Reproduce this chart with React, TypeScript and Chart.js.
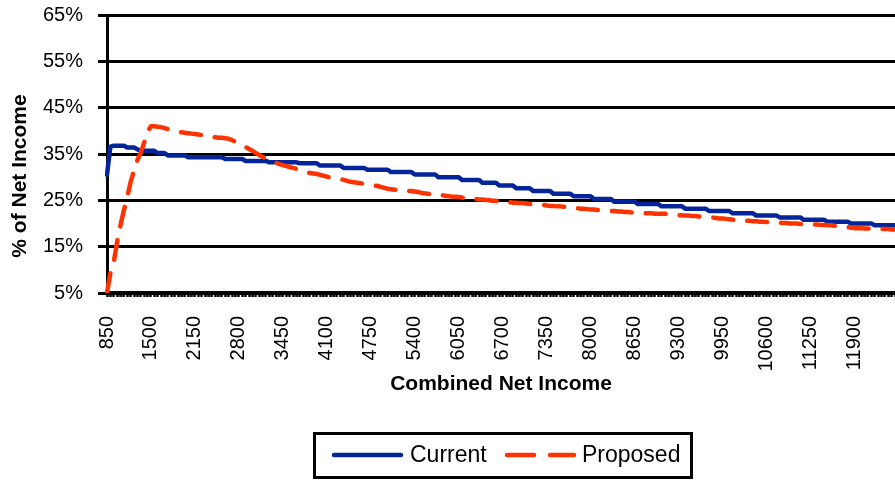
import React, { useEffect, useRef } from "react";
import { Chart, registerables } from "chart.js";

Chart.register(...registerables);

// Category axis: combined net income, 850 to 12500 in steps of 50
const FIRST_INCOME = 850;
const INCOME_STEP = 50;
const CATEGORY_COUNT = 234;
const categories: string[] = Array.from({ length: CATEGORY_COUNT }, (_, i) => String(FIRST_INCOME + i * INCOME_STEP));
const LABEL_EVERY = 13; // a label every 650

const Y_MIN = 5;
const Y_MAX = 65;
const Y_STEP = 10;

const SERIES_NAMES = ["Current", "Proposed"];
const Y_TITLE = "% of Net Income";
const X_TITLE = "Combined Net Income";

// % of net income, Current system
const current: number[] = [
  30.5, 36.6, 36.8, 36.8, 36.8, 36.8, 36.4, 36.4, 36.4, 36.0,
  35.7, 35.7, 35.7, 35.7, 35.7, 35.2, 35.2, 35.2, 34.7, 34.7,
  34.7, 34.7, 34.7, 34.7, 34.3, 34.3, 34.3, 34.3, 34.3, 34.3,
  34.3, 34.3, 34.3, 34.3, 34.3, 33.9, 33.9, 33.9, 33.9, 33.9,
  33.9, 33.5, 33.5, 33.5, 33.5, 33.5, 33.5, 33.5, 33.2, 33.2,
  33.2, 33.2, 33.2, 33.2, 33.2, 33.2, 33.2, 33.0, 33.0, 33.0,
  33.0, 33.0, 33.0, 32.5, 32.5, 32.5, 32.5, 32.5, 32.5, 32.5,
  32.0, 32.0, 32.0, 32.0, 32.0, 32.0, 32.0, 31.6, 31.6, 31.6,
  31.6, 31.6, 31.6, 31.6, 31.1, 31.1, 31.1, 31.1, 31.1, 31.1,
  31.1, 30.6, 30.6, 30.6, 30.6, 30.6, 30.6, 30.6, 30.0, 30.0,
  30.0, 30.0, 30.0, 30.0, 30.0, 29.4, 29.4, 29.4, 29.4, 29.4,
  29.4, 28.8, 28.8, 28.8, 28.8, 28.8, 28.2, 28.2, 28.2, 28.2,
  28.2, 27.6, 27.6, 27.6, 27.6, 27.6, 27.0, 27.0, 27.0, 27.0,
  27.0, 27.0, 26.4, 26.4, 26.4, 26.4, 26.4, 26.4, 25.9, 25.9,
  25.9, 25.9, 25.9, 25.9, 25.3, 25.3, 25.3, 25.3, 25.3, 25.3,
  24.7, 24.7, 24.7, 24.7, 24.7, 24.7, 24.7, 24.2, 24.2, 24.2,
  24.2, 24.2, 24.2, 24.2, 23.7, 23.7, 23.7, 23.7, 23.7, 23.7,
  23.7, 23.2, 23.2, 23.2, 23.2, 23.2, 23.2, 23.2, 22.7, 22.7,
  22.7, 22.7, 22.7, 22.7, 22.7, 22.2, 22.2, 22.2, 22.2, 22.2,
  22.2, 22.2, 21.7, 21.7, 21.7, 21.7, 21.7, 21.7, 21.7, 21.3,
  21.3, 21.3, 21.3, 21.3, 21.3, 21.3, 20.8, 20.8, 20.8, 20.8,
  20.8, 20.8, 20.8, 20.4, 20.4, 20.4, 20.4, 20.4, 20.4, 20.4,
  20.0, 20.0, 20.0, 20.0, 20.0, 20.0, 20.0, 19.6, 19.6, 19.6,
  19.6, 19.6, 19.6, 19.6,
];

// % of net income, Proposed system
const proposed: number[] = [
  5.0, 9.3, 11.7, 16.0, 19.7, 22.9, 25.7, 29.0, 31.5, 33.7,
  35.3, 37.5, 39.8, 41.0, 41.0, 40.9, 40.8, 40.6, 40.4, 40.2,
  40.0, 39.8, 39.7, 39.6, 39.5, 39.4, 39.3, 39.2, 39.1, 39.0,
  38.8, 38.7, 38.6, 38.5, 38.5, 38.4, 38.3, 38.0, 37.6, 37.3,
  36.9, 36.5, 36.1, 35.7, 35.2, 34.8, 34.4, 34.0, 33.7, 33.4,
  33.1, 32.8, 32.6, 32.4, 32.2, 32.0, 31.8, 31.5, 31.3, 31.1,
  30.9, 30.8, 30.7, 30.5, 30.3, 30.1, 29.9, 29.8, 29.7, 29.6,
  29.4, 29.2, 29.0, 28.9, 28.8, 28.7, 28.6, 28.4, 28.3, 28.2,
  28.1, 27.9, 27.7, 27.5, 27.4, 27.3, 27.2, 27.2, 27.1, 27.0,
  27.0, 26.9, 26.8, 26.6, 26.5, 26.4, 26.3, 26.2, 26.1, 26.1,
  26.0, 25.9, 25.8, 25.8, 25.7, 25.6, 25.5, 25.4, 25.4, 25.3,
  25.2, 25.2, 25.1, 25.0, 24.9, 24.9, 24.8, 24.8, 24.7, 24.6,
  24.5, 24.5, 24.4, 24.4, 24.3, 24.2, 24.2, 24.1, 24.1, 24.0,
  23.9, 23.8, 23.8, 23.7, 23.7, 23.6, 23.6, 23.5, 23.4, 23.3,
  23.2, 23.2, 23.1, 23.0, 23.0, 22.9, 22.9, 22.8, 22.8, 22.7,
  22.7, 22.6, 22.6, 22.5, 22.5, 22.4, 22.4, 22.3, 22.3, 22.2,
  22.2, 22.2, 22.1, 22.1, 22.1, 22.1, 22.0, 22.0, 21.9, 21.8,
  21.8, 21.7, 21.7, 21.6, 21.6, 21.5, 21.5, 21.4, 21.3, 21.3,
  21.2, 21.1, 21.1, 21.0, 20.9, 20.8, 20.8, 20.7, 20.7, 20.6,
  20.6, 20.5, 20.5, 20.4, 20.4, 20.3, 20.3, 20.2, 20.2, 20.2,
  20.1, 20.1, 20.0, 20.0, 20.0, 19.9, 19.9, 19.9, 19.8, 19.8,
  19.8, 19.7, 19.7, 19.6, 19.6, 19.5, 19.5, 19.4, 19.3, 19.2,
  19.1, 19.0, 19.0, 19.0, 18.9, 18.9, 18.9, 18.8, 18.8, 18.8,
  18.8, 18.8, 18.7, 18.7,
];

const FONT = '"Liberation Sans", Arial, Helvetica, sans-serif';
const BLUE = "#04259A";
const RED = "#FF3300";

const yTitlePlugin = {
  id: "yTitlePlugin",
  afterDraw(chart: any) {
    const ctx = chart.ctx;
    ctx.save();
    ctx.translate(20, 176);
    ctx.rotate(-Math.PI / 2);
    ctx.font = `bold 21px ${FONT}`;
    ctx.fillStyle = "#000";
    ctx.textAlign = "center";
    ctx.textBaseline = "middle";
    ctx.fillText(Y_TITLE, 0, 0);
    ctx.restore();
  },
};

const legendPlugin = {
  id: "boxedLegend",
  afterDraw(chart: any) {
    const ctx = chart.ctx;
    const ds = chart.data.datasets;
    ctx.save();
    ctx.strokeStyle = "#000";
    ctx.lineWidth = 3;
    ctx.strokeRect(314.5, 433.5, 377, 44);
    const cy = 455;
    const items = [
      { x0: 334, x1: 401, tx: 410 },
      { x0: 507, x1: 574, tx: 582 },
    ];
    ctx.font = `23px ${FONT}`;
    ctx.textBaseline = "middle";
    ctx.textAlign = "left";
    ds.forEach((d: any, i: number) => {
      const it = items[i];
      ctx.beginPath();
      ctx.strokeStyle = d.borderColor;
      ctx.lineWidth = 4.5;
      ctx.lineCap = "round";
      ctx.setLineDash(d.borderDash && d.borderDash.length ? [27, 16] : []);
      ctx.moveTo(it.x0, cy);
      ctx.lineTo(it.x1, cy);
      ctx.stroke();
      ctx.setLineDash([]);
      ctx.fillStyle = "#000";
      ctx.fillText(d.label, it.tx, cy + 1);
    });
    ctx.restore();
  },
};

export default function App() {
  const ref = useRef<HTMLCanvasElement>(null);
  useEffect(() => {
    document.body.style.margin = "0";
    Chart.defaults.font.family = FONT;
    Chart.defaults.color = "#000";
    const chart = new Chart(ref.current as HTMLCanvasElement, {
      type: "line",
      data: {
        labels: categories,
        datasets: [
          {
            label: SERIES_NAMES[0],
            data: current,
            borderColor: BLUE,
            backgroundColor: BLUE,
            borderWidth: 4.5,
            pointRadius: 0,
            tension: 0,
            borderJoinStyle: "round",
            borderCapStyle: "round",
            order: 1,
          },
          {
            label: SERIES_NAMES[1],
            data: proposed,
            borderColor: RED,
            backgroundColor: RED,
            borderWidth: 4.5,
            borderDash: [20, 14],
            borderCapStyle: "round",
            borderJoinStyle: "round",
            pointRadius: 0,
            tension: 0,
            order: 0,
          },
        ],
      },
      options: {
        responsive: false,
        animation: false,
        events: [],
        layout: { padding: { left: 0, right: 0, top: 15, bottom: 78 } },
        plugins: {
          legend: { display: false },
          tooltip: { enabled: false },
          title: { display: false },
        },
        scales: {
          x: {
            type: "category",
            offset: false,
            border: { display: true, color: "#000", width: 3.5 },
            grid: {
              drawOnChartArea: false,
              drawTicks: true,
              tickLength: 4,
              tickWidth: 2.5,
              tickColor: "#000",
            },
            ticks: {
              autoSkip: false,
              minRotation: 90,
              maxRotation: 90,
              padding: 19,
              font: { size: 20, family: FONT },
              color: "#000",
              callback: function (this: any, value: any, index: number) {
                return index % LABEL_EVERY === 0 ? this.getLabelForValue(value) : "";
              },
            },
            title: {
              display: true,
              text: X_TITLE,
              font: { size: 21, weight: "bold", family: FONT },
              color: "#000",
              padding: { top: 0, bottom: 6 },
            },
            afterFit: (s: any) => {
              s.height = 110;
              s.paddingLeft = 0;
              s.paddingRight = 0;
            },
          },
          y: {
            min: Y_MIN,
            max: Y_MAX,
            border: { display: true, color: "#000", width: 3 },
            grid: {
              color: "#000",
              lineWidth: 3,
              drawTicks: true,
              tickLength: 9,
            },
            ticks: {
              stepSize: Y_STEP,
              padding: 15,
              font: { size: 20, family: FONT },
              color: "#000",
              callback: (v: any) => `${v}%`,
            },
            afterFit: (s: any) => {
              s.width = 107;
              s.paddingTop = 0;
              s.paddingBottom = 0;
            },
          },
        },
      },
      plugins: [yTitlePlugin, legendPlugin],
    } as any);
    return () => chart.destroy();
  }, []);
  return <canvas ref={ref} width={895} height={481} style={{ display: "block" }} />;
}
